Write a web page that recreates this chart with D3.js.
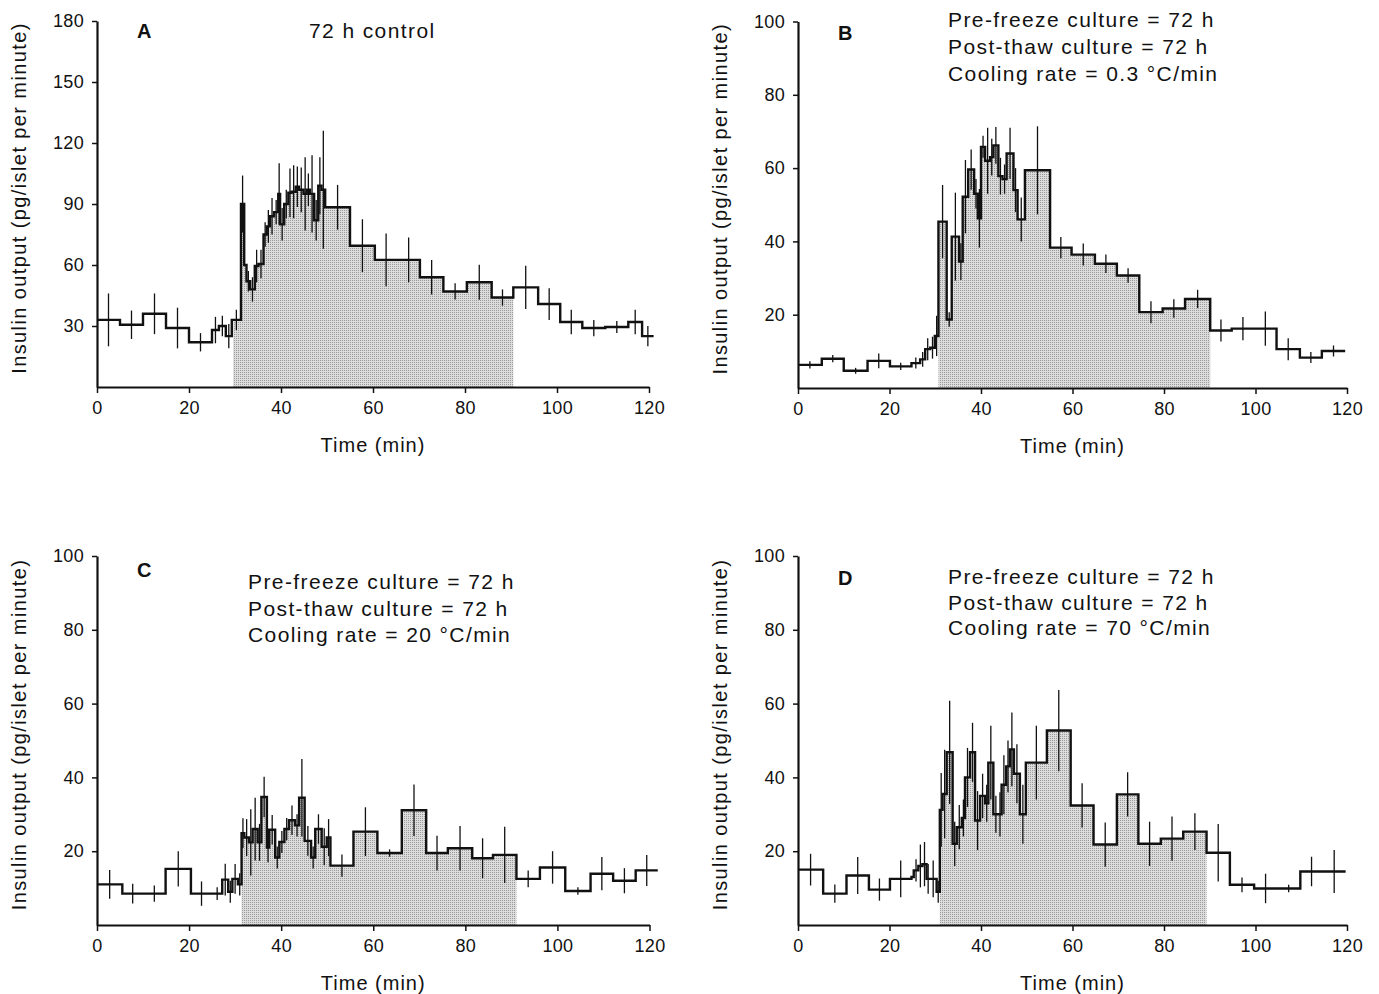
<!DOCTYPE html>
<html>
<head>
<meta charset="utf-8">
<title>Insulin output</title>
<script src="https://d3js.org/d3.v7.min.js"></script>
<style>
  body { margin: 0; background: #fff; }
  text { font-family: "Liberation Sans", Arial, sans-serif; fill: #111; }
</style>
</head>
<body>
<script>
// bin edges (min), mean output and SEM for each panel
var tA = [0,5,10,15,20,25,26.5,28,29.3,31.3,32,32.5,33.3,34.3,35.1,36.2,36.9,37.6,38.5,39.4,39.8,40.7,41.6,42.3,43.2,43.9,44.9,45.6,46.3,47.2,48.1,48.8,49.6,55,60.4,65.3,70.2,75.3,80.4,85.8,90.5,95.9,100.7,105.5,110.5,115.5,118.5,121];
var vA = [33,30.6,36,29,22,28,30,25,33,90,60,52,48,59.5,60.5,75,79,84,86,95,80,90,95.5,96,98.5,97,95,97,95,82,99,97,88.4,69.5,62.5,62.5,54,47,51.5,44,49,40.8,32,29,29.5,32,25];
var eA = [13,7,10,10,4.5,6.5,5,6,5,14,0,5,6,8,7,6,8,9,6,15,8,7,12,13,10,11,18,8,19,10,14,29,11,13,13,11,8.5,4,8.6,4,10.6,7.8,6,4,3,6,5];

var tB = [0,5.2,10,15.2,20.1,24.8,26.7,27.8,28.9,29.9,30.7,32.5,33.6,35.2,36,37.2,38.5,39.3,40,40.9,42,42.7,43.8,44.7,45.6,47.1,48,49.6,55.1,59.8,64.9,69.7,74.6,79.7,84.6,90.1,94.8,99.7,104.6,109.7,114.5,119.6];
var vB = [6.3,8,4.7,7.4,5.9,6.8,7.8,10.6,11,14.2,45.4,18.7,41.3,34.5,52.2,59.6,53,46.3,65.8,62,63,66.2,57.8,57,64,54,46,59.4,38.3,36.4,33.9,30.7,20.7,21.7,24.3,15.7,16.2,16.2,10.6,8.3,10.1];
var eB = [1,1,0.8,2,1,1.5,2,3,3,5.5,10,2,12,5,10,5.5,4,8,3,9,5,5,5,4,7,6,6,12,2.9,3,2.5,2,3,2.5,2.5,3,3.2,4.7,3,1.5,1.5];

var tC = [0,5.5,10,14.9,20.4,25,27.2,28.5,29.4,30.6,31.4,32,33,33.8,34.9,35.7,36.9,37.4,38.7,39.6,40.7,41.7,43,43.9,45.1,46.5,47.4,48.8,49.9,50.7,55.7,60.9,66.2,71.5,76.2,81.5,86,91.1,96.2,101.7,107.2,112.1,117,121.8];
var vC = [11,8.5,8.5,15.2,8.5,8.5,12.3,9,12.5,11,24.9,23.7,22.4,26,22.4,34.7,21,25.8,18.3,22.5,26,28.4,27,34.5,22.8,18.3,26,21.2,23.7,16.1,25.3,19.5,31.1,19.5,20.8,18.1,19,12.5,15.6,9.2,13.9,12,14.8];
var eC = [3.9,2.7,2.2,4.8,3.3,1.7,4.3,3,4,3,4,5,9,8.5,5,5.5,4,4,3,3,3,4,3,10.5,4,3,4,5,5,3,6.6,1,7,4.7,6,5.4,7.6,2.3,4.4,1,4.5,3.4,4.2];

var tD = [0,5.5,10.6,15.5,20.1,24.8,25.3,26.3,27.2,28.1,28.8,30.3,31,31.6,32.5,33.8,34.7,35.8,36.5,37.6,38.7,39.8,40.9,41.6,42.7,43.8,44.5,45.5,46.3,47.2,48.5,49.8,54.4,59.6,64.6,69.7,74.4,79.3,84.2,89.3,94.4,99.7,104.7,109.8,114.7,119.7];
var vD = [15,8.5,13.4,9.6,12.5,13,14.8,16,16.5,12.5,12.5,9,31.2,35.5,46.8,22,26.5,29,40,46.8,28.3,35,33,44,30,30,38,43,47.6,41,30,44,52.7,32.4,21.8,35.4,22,23.4,25.3,19.6,10.9,9.9,9.9,14.5,14.5];
var eD = [4.3,2.5,5,3,5,0,3,5.8,6,4,5,3,10,12,14,6,6,5,8,8,8,6,5,10,5,6,8,7,10,8,8,10,11,6,6,6,6,6,5,7.8,2,4,1,4,5.8];

// glucose stimulation period (shaded)
var shadeA = [29.6, 90.5];
var shadeB = [30.7, 90.1];
var shadeC = [31.4, 91.1];
var shadeD = [31, 89.3];

var xTicks = [0,20,40,60,80,100,120];
var yTicksA = [30,60,90,120,150,180];
var yTicks = [20,40,60,80,100];

var notesA = ["72 h control"];
var notesB = ["Pre-freeze culture = 72 h", "Post-thaw culture = 72 h", "Cooling rate = 0.3 °C/min"];
var notesC = ["Pre-freeze culture = 72 h", "Post-thaw culture = 72 h", "Cooling rate = 20 °C/min"];
var notesD = ["Pre-freeze culture = 72 h", "Post-thaw culture = 72 h", "Cooling rate = 70 °C/min"];

var svg = d3.select("body").append("svg")
    .attr("width", 1379)
    .attr("height", 994);

// stipple fill like the printed figure
var pat = svg.append("defs").append("pattern")
    .attr("id", "stip")
    .attr("width", 2).attr("height", 2)
    .attr("patternUnits", "userSpaceOnUse");
pat.append("rect").attr("width", 2).attr("height", 2).attr("fill", "#dcdcdc");
pat.append("rect").attr("width", 1).attr("height", 1).attr("fill", "#9a9a9a");

function panel(p) {
  var x = d3.scaleLinear().domain([0, 120]).range([p.x0, p.x1]);
  var y = d3.scaleLinear().domain([0, p.ymax]).range([p.y0, p.y1]);
  var g = svg.append("g");

  var pts = p.v.map(function(v, i) { return [p.t[i], v]; });
  pts.push([p.t[p.t.length - 1], p.v[p.v.length - 1]]);

  var clipId = "clip" + p.name;
  svg.select("defs").append("clipPath").attr("id", clipId)
    .append("rect")
    .attr("x", x(p.shade[0])).attr("width", x(p.shade[1]) - x(p.shade[0]))
    .attr("y", 0).attr("height", 994);

  var area = d3.area().curve(d3.curveStepAfter)
      .x(function(d) { return x(d[0]); })
      .y0(y(0)).y1(function(d) { return y(d[1]); });
  g.append("path").datum(pts)
    .attr("d", area)
    .attr("fill", "url(#stip)")
    .attr("clip-path", "url(#" + clipId + ")");

  // error bars at bin centres
  g.selectAll("line.err")
    .data(p.v.map(function(v, i) { return { t: (p.t[i] + p.t[i + 1]) / 2, v: v, e: p.e[i] }; })
      .filter(function(d) { return d.e > 0; }))
    .enter().append("line")
    .attr("class", "err")
    .attr("x1", function(d) { return x(d.t); })
    .attr("x2", function(d) { return x(d.t); })
    .attr("y1", function(d) { return y(d.v - d.e); })
    .attr("y2", function(d) { return y(d.v + d.e); })
    .attr("stroke", "#111")
    .attr("stroke-width", 1.3);

  var line = d3.line().curve(d3.curveStepAfter)
      .x(function(d) { return x(d[0]); })
      .y(function(d) { return y(d[1]); });
  g.append("path").datum(pts)
    .attr("d", line)
    .attr("fill", "none")
    .attr("stroke", "#111")
    .attr("stroke-width", 2.4);

  var xa = g.append("g")
    .attr("transform", "translate(0," + y(0) + ")")
    .call(d3.axisBottom(x).tickValues(xTicks).tickSize(6).tickPadding(8).tickSizeOuter(0));
  var ya = g.append("g")
    .attr("transform", "translate(" + p.x0 + ",0)")
    .call(d3.axisLeft(y).tickValues(p.yt).tickSize(5).tickPadding(8).tickSizeOuter(0));
  [xa, ya].forEach(function(a) {
    a.select(".domain").attr("stroke-width", 2.2).attr("stroke", "#111");
    a.selectAll(".tick line").attr("stroke-width", 1.5).attr("stroke", "#111");
    a.selectAll("text").style("font-size", "18px").style("letter-spacing", "0.3px")
      .style("font-family", "'Liberation Sans', Arial, sans-serif").attr("fill", "#111");
  });

  g.append("text")
    .attr("x", (p.x0 + p.x1) / 2).attr("y", y(0) + 65)
    .attr("text-anchor", "middle").style("font-size", "20px").style("letter-spacing", "1px")
    .text("Time (min)");
  g.append("text")
    .attr("transform", "translate(" + (p.x0 - 71) + "," + ((p.y0 + p.y1) / 2 - 6) + ") rotate(-90)")
    .attr("text-anchor", "middle").style("font-size", "20px").style("letter-spacing", "1.4px")
    .text("Insulin output (pg/islet per minute)");

  g.append("text")
    .attr("x", p.x0 + 40).attr("y", p.y1 + p.letterDy)
    .style("font-size", "20px").style("font-weight", "bold")
    .text(p.name);
  g.selectAll("text.note").data(p.notes).enter().append("text")
    .attr("class", "note")
    .attr("x", p.noteX)
    .attr("y", function(d, i) { return p.noteY + i * p.noteGap; })
    .style("font-size", "21px").style("letter-spacing", "1.4px")
    .text(function(d) { return d; });
}

panel({ name: "A", t: tA, v: vA, e: eA, shade: shadeA, ymax: 180, yt: yTicksA,
        x0: 97, x1: 649, y0: 387, y1: 21, letterDy: 17, notes: notesA, noteX: 309, noteY: 38, noteGap: 26 });
panel({ name: "B", t: tB, v: vB, e: eB, shade: shadeB, ymax: 100, yt: yTicks,
        x0: 798, x1: 1347, y0: 388, y1: 21.5, letterDy: 18, notes: notesB, noteX: 948, noteY: 27, noteGap: 27 });
panel({ name: "C", t: tC, v: vC, e: eC, shade: shadeC, ymax: 100, yt: yTicks,
        x0: 97, x1: 649.5, y0: 925, y1: 556, letterDy: 21, notes: notesC, noteX: 248, noteY: 589, noteGap: 26.5 });
panel({ name: "D", t: tD, v: vD, e: eD, shade: shadeD, ymax: 100, yt: yTicks,
        x0: 798, x1: 1347, y0: 925, y1: 556, letterDy: 29, notes: notesD, noteX: 948, noteY: 584, noteGap: 25.5 });
</script>
</body>
</html>
